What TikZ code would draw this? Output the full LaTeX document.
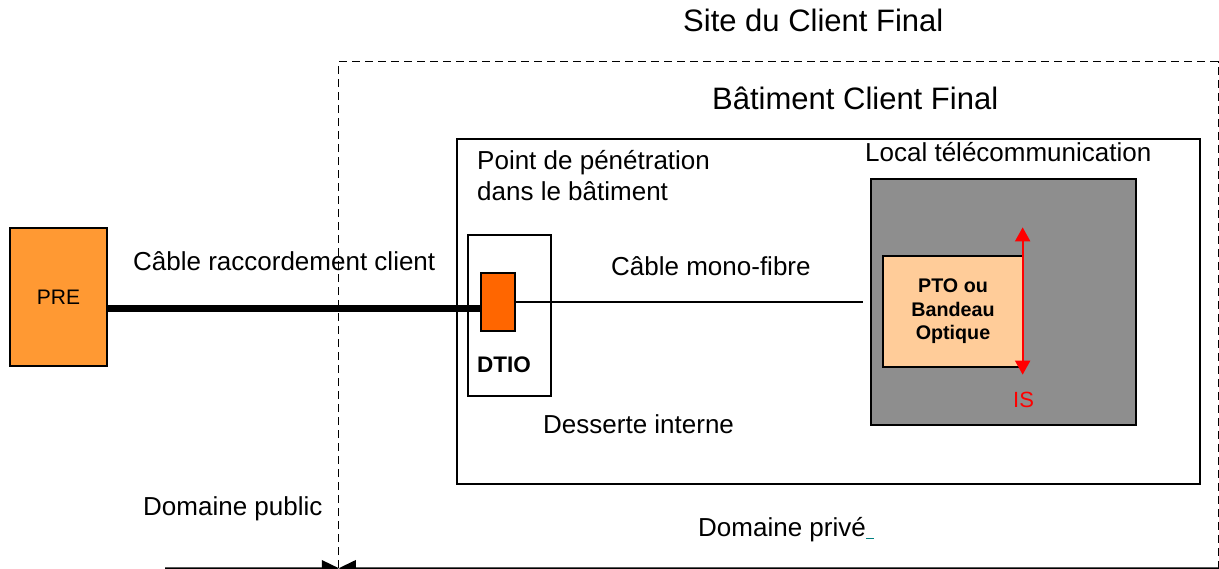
\documentclass[tikz,border=0pt]{standalone}
\usepackage{fontspec}
\setmainfont{Liberation Sans}
\definecolor{preorange}{RGB}{255,153,51}
\definecolor{dtioorange}{RGB}{255,102,0}
\definecolor{ptopeach}{RGB}{255,204,153}
\definecolor{localgray}{RGB}{142,142,142}
\definecolor{isred}{RGB}{255,0,0}
\definecolor{linkteal}{RGB}{0,128,128}
\usetikzlibrary{arrows.meta, positioning, calc}

\begin{document}
\begin{tikzpicture}[x=1pt, y=-1pt,
  box/.style={draw, line width=1.3pt, inner sep=0pt},
  lbl/.style={anchor=base west, inner sep=0pt, font=\fontsize{26}{31}\selectfont},
  bigtitle/.style={anchor=base west, inner sep=0pt, font=\fontsize{31}{37}\selectfont},
  domarrow/.style={line width=1.5pt, -{Triangle[length=17pt,width=16pt]}},
  isarrow/.style={isred, line width=2pt, {Triangle[length=14pt,width=15pt]}-{Triangle[length=14pt,width=15pt]}}]
  \useasboundingbox (0,0) rectangle (1219,569);
  \clip (0,0) rectangle (1219,569);

  % Site and building outlines
  \node[inner sep=0pt, minimum width=879pt, minimum height=506pt] (site) at (778.5,315) {};
  \draw[line width=1.3pt, dash pattern=on 8pt off 5pt] (site.south west) |- (site.north east) -- (site.south east);
  \node[bigtitle] (sitelbl) at (683,32) {Site du Client Final};
  \node[box, minimum width=743pt, minimum height=345pt] (batiment) at (828.5,311.5) {};
  \node[bigtitle] (batlbl) at (712,110) {Bâtiment Client Final};
  \node[lbl, align=left] (penetlbl) at (477,201) {Point de pénétration\\dans le bâtiment};

  % PRE and DTIO
  \node[box, fill=preorange, minimum width=97pt, minimum height=138pt, font=\fontsize{21}{25}\selectfont] (pre) at (58.5,297) {PRE};
  \node[box, minimum width=83pt, minimum height=161pt] (dtio) at (509.5,315.5) {};
  \node[box, fill=dtioorange, minimum width=34pt, minimum height=58pt] (conn) at (498,302) {};
  \node[anchor=base west, inner sep=0pt, font=\fontsize{22.5}{27}\selectfont\bfseries] (dtiolbl) at (477,373) {DTIO};

  % Local telecom
  \node[box, fill=localgray, minimum width=265pt, minimum height=246pt] (local) at (1003.5,302) {};
  \node[lbl] (locallbl) at (865,162) {Local télécommunication};
  \node[box, fill=ptopeach, minimum width=140pt, minimum height=111pt, align=center,
        font=\fontsize{19.7}{23.5}\selectfont\bfseries] (pto) at (953,311.5) {PTO ou\\Bandeau\\Optique};

  % Cables
  \draw[line width=7pt] (pre.east |- 0,309) -- (conn.west |- 0,309);
  \coordinate (fibreend) at ($(local.west |- conn.east)+(-7,0)$);
  \draw[line width=1.2pt] (conn.east) -- (fibreend);
  \node[lbl] (raccordlbl) at (133,271) {Câble raccordement client};
  \node[lbl] (fibrelbl) at (611,276) {Câble mono-fibre};
  \node[lbl] (dessertelbl) at (543,433) {Desserte interne};

  % IS
  \coordinate (istop) at ($(pto.north east)+(-1,-28)$);
  \coordinate (isbot) at ($(pto.south east)+(-1,7)$);
  \draw[isarrow] (istop) -- (isbot);
  \node[anchor=base west, inner sep=0pt, text=isred, font=\fontsize{22}{26}\selectfont] (islbl) at (1013,408) {IS};

  % Domains
  \node[lbl] (publbl) at (143,515) {Domaine public};
  \node[lbl] (privlbl) at (698,536) {Domaine privé\textcolor{linkteal}{\rule[-3pt]{8pt}{1.3pt}}};
  \coordinate (pubend) at (165,568);
  \coordinate (privend) at (1219,568);
  \draw[domarrow] (pubend) -- (site.south west);
  \draw[domarrow] (privend) -- (site.south west);
\end{tikzpicture}
\end{document}
